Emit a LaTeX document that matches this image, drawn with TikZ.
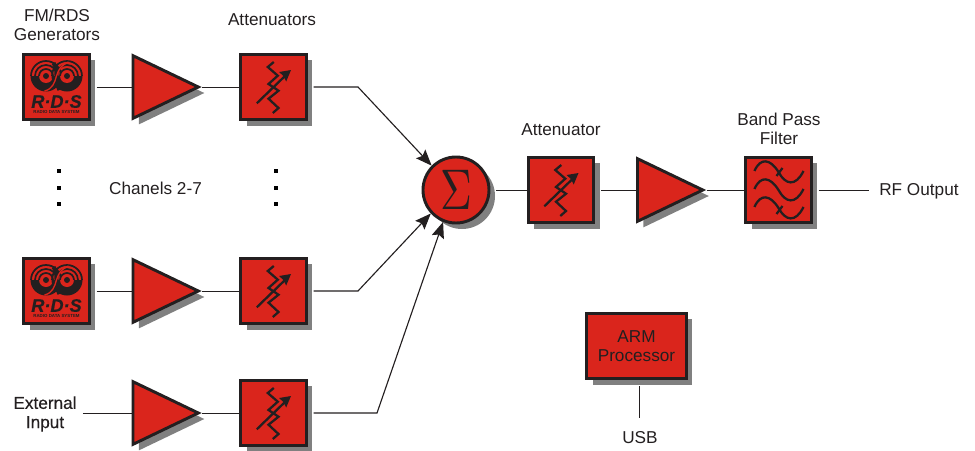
\documentclass[tikz,border=0pt]{standalone}
\usepackage{fontspec}
\setmainfont{Liberation Sans}
\usetikzlibrary{arrows.meta,shadows,shapes.geometric}
\definecolor{blockred}{HTML}{DA251C}
\definecolor{blockink}{HTML}{231F20}
\definecolor{blockshade}{HTML}{808080}
\tikzset{
  x=0.75pt, y=-0.75pt,
  block/.style={draw=blockink, line width=2.2pt, fill=blockred, inner sep=0pt,
    drop shadow={shadow xshift=4.5pt, shadow yshift=-4.5pt, fill=blockshade, opacity=1}},
  squarebox/.style={block, rectangle, minimum size=49pt},
  ampbox/.style={block, isosceles triangle, isosceles triangle stretches, anchor=lower side,
    minimum width=47pt, minimum height=49pt},
  label/.style={text=blockink, font=\fontsize{12.9}{14.4}\selectfont, align=center, inner sep=0pt},
  wire/.style={draw=blockink, line width=0.7pt},
  wireout/.style={wire, shorten <=4.5pt},
  feed/.style={wireout, line width=0.85pt, -{Stealth[length=12pt,width=9.5pt,inset=2pt]}},
  dotmark/.style={rectangle, fill=black, minimum size=3pt, inner sep=0pt},
  glyph/.style={draw=blockink, line width=1.7pt, line join=miter},
  atten/.pic={
    \draw[glyph] (0.3,-25) -- (-5.7,-20) -- (4.3,-11.3) -- (-5,-3) -- (5,3.7) -- (-5,11.7) -- (5,21) -- (-0.7,26);
    \draw[glyph] (-16.7,16.3) -- (12,-11.5);
    \fill[blockink] (17.5,-17) -- (5.5,-15) -- (10,-11) -- (12.7,-5.5) -- cycle;
  },
  bandpass/.pic={
    \foreach \yy in {-18,0,18}
      \draw[glyph] (-24,\yy-1) .. controls (-18,\yy-15) and (-8,\yy-13) .. (0,\yy)
        .. controls (7,\yy+13) and (17,\yy+15) .. (25,\yy-1);
    \draw[glyph] (-2,-14) -- (4,-22);
    \draw[glyph] (-2,24) -- (4,16);
  },
  rdslogo/.pic={
    % lower half of each disc
    \foreach \cx in {-10.5,10.5}{
      \fill[blockink] (\cx-15.5,-11) arc [start angle=180, end angle=0, radius=15.5] -- cycle;
      \fill[blockred] (\cx,-11) circle [radius=7];
      \fill[blockink] (\cx,-11) circle [radius=3];
      % upper rings
      \foreach \rr in {15,11,7}
        \draw[blockink, line width=1.3pt] (\cx-\rr,-11) arc [start angle=180, end angle=360, radius=\rr];
    }
    % the S between the discs
    \draw[blockink, line width=3pt] (-3,-24) .. controls (3,-16) and (-3,-8) .. (3,3);
    \draw[blockred, line width=1pt] (-12,4) .. controls (-4,2) and (-2,-4) .. (0,-11) .. controls (2,-18) and (5,-22) .. (12,-25);
  },
}
\begin{document}
\begin{tikzpicture}
  \useasboundingbox (0,0) rectangle (975,450);

  % first row
  \node[squarebox] (rdsa) at (56.5,87) {};
  \node[ampbox] (ampa) at (131.5,87) {};
  \node[squarebox] (atta) at (273.5,87) {};
  % second row
  \node[squarebox] (rdsb) at (56.5,291) {};
  \node[ampbox] (ampb) at (131.5,291) {};
  \node[squarebox] (attb) at (273.5,291) {};
  % third row
  \node[label, font=\fontsize{12.9}{14.4}\addfontfeature{FakeBold=0.4}\selectfont] (extin) at (45,414) {External\\Input};
  \node[ampbox] (ampc) at (131.5,413) {};
  \node[squarebox] (attc) at (273.5,413) {};
  % output chain
  \node[circle, block, minimum size=49.5pt] (sigma) at (456,190) {\textcolor{blockink}{\scalebox{3.3}[4.3]{$\Sigma$}}};
  \node[squarebox] (attd) at (561,190) {};
  \node[ampbox] (ampd) at (636,190) {};
  \node[squarebox] (bpf) at (778.5,190) {};
  \node[label, anchor=west] (rfout) at (879,191) {RF Output};
  \coordinate (rfend) at (869,190);
  % processor
  \node[block, rectangle, minimum width=74.5pt, minimum height=49pt, text=blockink, font=\fontsize{12.9}{14.4}\selectfont, align=center] (arm) at (636.5,346) {ARM\\Processor};
  \node[label] (usb) at (640,438) {USB};
  \coordinate (usbend) at (639.5,418);

  % symbols inside the boxes
  \foreach \nn in {atta,attb,attc,attd} \pic at (\nn) {atten};
  \pic at (bpf) {bandpass};
  \foreach \nn in {rdsa,rdsb}{
    \pic at (\nn) {rdslogo};
    \node[text=blockink, font=\fontsize{13.6}{14}\bfseries\itshape\addfontfeature{FakeBold=0.6}\selectfont, inner sep=0pt] (\nn t) at ([yshift=-10.9pt]\nn) {R·D·S};
    \node[text=blockink, font=\fontsize{3.3}{4}\bfseries\selectfont, inner sep=0pt] (\nn u) at ([yshift=-18.9pt]\nn) {RADIO DATA SYSTEM};
  }

  % titles
  \node[label] (titlegen) at (57,25) {FM/RDS\\Generators};
  \node[label] (titleatt) at (272,20) {Attenuators};
  \node[label] (titlechan) at (155.5,188) {Chanels 2-7};
  \node[label] (titlesum) at (561,130) {Attenuator};
  \node[label] (titlebpf) at (779,129) {Band Pass\\Filter};

  % dots between the rows
  \foreach \yy [count=\ii] in {171,187.5,204}{
    \node[dotmark] (dotl\ii) at (59,\yy) {};
    \node[dotmark] (dotr\ii) at (275.5,\yy) {};
  }

  % wires start at the edge of the shadow
  \draw[wireout] (rdsa.east) -- (ampa.lower side);
  \draw[wire] (ampa.apex) -- (atta.west);
  \draw[wireout] (rdsb.east) -- (ampb.lower side);
  \draw[wire] (ampb.apex) -- (attb.west);
  \draw[wireout] (extin.east |- ampc.lower side) -- (ampc.lower side);
  \draw[wire] (ampc.apex) -- (attc.west);
  \draw[wireout] (sigma.east) -- (attd.west);
  \draw[wireout] (attd.east) -- (ampd.lower side);
  \draw[wire] (ampd.apex) -- (bpf.west);
  \draw[wireout] (bpf.east) -- (rfend);
  \draw[wireout] (arm.south -| usbend) -- (usbend);

  % summing inputs
  \coordinate (benda) at (358,87);
  \coordinate (bendb) at (358,291);
  \coordinate (bendc) at (377,413);
  \draw[feed] (atta.east) -- (benda) -- (sigma.135);
  \draw[feed] (attb.east) -- (bendb) -- (sigma.223);
  \draw[feed] (attc.east) -- (bendc) -- (sigma.248);
\end{tikzpicture}
\end{document}
